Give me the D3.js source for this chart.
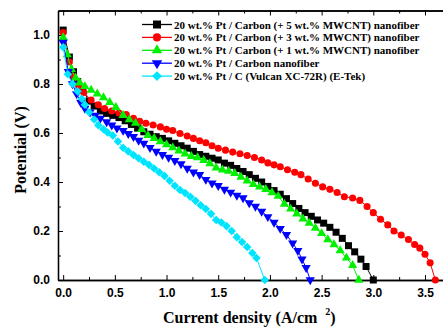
<!DOCTYPE html>
<html>
<head>
<meta charset="utf-8">
<script src="https://cdn.jsdelivr.net/npm/d3@7"></script>
<style>
  body { margin: 0; background: #fff; }
  svg { display: block; }
  .tick-label { font-family: "Liberation Sans", Arial, sans-serif; font-weight: bold; font-size: 12px; }
  .axis-title { font-family: "Liberation Serif", "Times New Roman", serif; font-weight: bold; font-size: 16px; }
  .legend-text { font-family: "Liberation Serif", "Times New Roman", serif; font-weight: bold; font-size: 11px; }
</style>
</head>
<body>
<svg width="443" height="331"></svg>
<script>
// polarization curves, [current density (A/cm2), potential (V)]
var mwcnt5 = [[0,1.02],[0.06,0.91],[0.1,0.85],[0.14,0.81],[0.19,0.775],[0.25,0.73],[0.3,0.71],[0.36,0.69],[0.42,0.68],[0.48,0.672],[0.54,0.663],[0.6,0.65],[0.66,0.635],[0.72,0.62],[0.78,0.605],[0.84,0.595],[0.9,0.585],[0.96,0.578],[1.02,0.568],[1.08,0.558],[1.14,0.548],[1.2,0.538],[1.26,0.525],[1.32,0.512],[1.38,0.505],[1.44,0.497],[1.5,0.49],[1.56,0.477],[1.62,0.468],[1.68,0.455],[1.74,0.443],[1.8,0.43],[1.86,0.415],[1.92,0.4],[1.98,0.382],[2.04,0.365],[2.1,0.35],[2.16,0.332],[2.22,0.312],[2.28,0.292],[2.34,0.275],[2.4,0.26],[2.46,0.245],[2.52,0.232],[2.58,0.215],[2.64,0.195],[2.7,0.17],[2.76,0.14],[2.82,0.115],[2.88,0.085],[2.93,0.055],[3.0,0.0]];
var mwcnt3 = [[0,1.01],[0.06,0.89],[0.1,0.83],[0.15,0.79],[0.2,0.765],[0.27,0.735],[0.34,0.715],[0.4,0.7],[0.47,0.69],[0.54,0.682],[0.61,0.675],[0.68,0.66],[0.74,0.648],[0.8,0.64],[0.87,0.633],[0.94,0.625],[1.0,0.615],[1.06,0.61],[1.13,0.598],[1.2,0.588],[1.26,0.578],[1.32,0.568],[1.38,0.56],[1.44,0.548],[1.5,0.538],[1.57,0.53],[1.64,0.522],[1.71,0.515],[1.78,0.508],[1.85,0.5],[1.92,0.49],[1.98,0.478],[2.04,0.47],[2.1,0.462],[2.17,0.45],[2.24,0.44],[2.3,0.43],[2.37,0.412],[2.44,0.395],[2.51,0.38],[2.58,0.37],[2.65,0.357],[2.72,0.34],[2.8,0.335],[2.87,0.325],[2.94,0.3],[3.0,0.275],[3.07,0.248],[3.14,0.225],[3.2,0.2],[3.27,0.184],[3.34,0.165],[3.4,0.145],[3.45,0.13],[3.5,0.105],[3.55,0.07],[3.6,0.0]];
var mwcnt1 = [[0,0.99],[0.04,0.92],[0.08,0.86],[0.12,0.825],[0.16,0.805],[0.21,0.79],[0.27,0.775],[0.33,0.76],[0.39,0.745],[0.45,0.725],[0.51,0.705],[0.58,0.672],[0.64,0.655],[0.7,0.64],[0.76,0.615],[0.82,0.59],[0.88,0.578],[0.94,0.565],[1.0,0.553],[1.06,0.54],[1.12,0.527],[1.18,0.515],[1.24,0.505],[1.3,0.5],[1.36,0.488],[1.42,0.475],[1.48,0.458],[1.54,0.45],[1.6,0.445],[1.66,0.435],[1.72,0.42],[1.78,0.405],[1.84,0.39],[1.9,0.38],[1.96,0.37],[2.02,0.357],[2.08,0.342],[2.14,0.31],[2.2,0.29],[2.26,0.27],[2.32,0.25],[2.38,0.232],[2.44,0.212],[2.5,0.19],[2.56,0.165],[2.62,0.145],[2.68,0.12],[2.74,0.09],[2.8,0.06],[2.86,0.0]];
var cnf = [[0,0.97],[0.05,0.85],[0.09,0.8],[0.13,0.76],[0.17,0.725],[0.21,0.7],[0.26,0.685],[0.31,0.672],[0.36,0.66],[0.42,0.645],[0.47,0.632],[0.52,0.62],[0.58,0.61],[0.63,0.597],[0.68,0.585],[0.73,0.57],[0.78,0.558],[0.84,0.54],[0.9,0.525],[0.96,0.512],[1.02,0.5],[1.08,0.487],[1.14,0.474],[1.2,0.455],[1.26,0.44],[1.32,0.43],[1.38,0.41],[1.44,0.395],[1.5,0.385],[1.56,0.37],[1.62,0.358],[1.68,0.345],[1.74,0.335],[1.8,0.315],[1.86,0.3],[1.92,0.28],[1.98,0.258],[2.04,0.235],[2.1,0.21],[2.16,0.185],[2.22,0.15],[2.27,0.12],[2.31,0.085],[2.35,0.05],[2.39,0.0]];
var vulcan = [[0,0.95],[0.045,0.84],[0.09,0.8],[0.14,0.77],[0.18,0.74],[0.21,0.715],[0.25,0.685],[0.3,0.655],[0.34,0.632],[0.39,0.615],[0.43,0.602],[0.48,0.59],[0.53,0.565],[0.58,0.54],[0.63,0.525],[0.68,0.51],[0.73,0.497],[0.78,0.483],[0.83,0.47],[0.88,0.455],[0.93,0.44],[0.98,0.425],[1.03,0.405],[1.08,0.385],[1.13,0.367],[1.18,0.355],[1.23,0.34],[1.28,0.323],[1.33,0.305],[1.38,0.29],[1.43,0.27],[1.48,0.245],[1.53,0.235],[1.58,0.22],[1.63,0.2],[1.68,0.175],[1.73,0.155],[1.78,0.135],[1.83,0.11],[1.87,0.09],[1.95,0.0]];

var seriesNames = [
  "20 wt.% Pt / Carbon (+ 5 wt.% MWCNT) nanofiber",
  "20 wt.% Pt / Carbon (+ 3 wt.% MWCNT) nanofiber",
  "20 wt.% Pt / Carbon (+ 1 wt.% MWCNT) nanofiber",
  "20 wt.% Pt / Carbon nanofiber",
  "20 wt.% Pt / C (Vulcan XC-72R) (E-Tek)"
];
var seriesColors = ["#000000", "#ff0000", "#00f000", "#0000ff", "#00e5ff"];
var xTicks = [0, 0.5, 1.0, 1.5, 2.0, 2.5, 3.0, 3.5];
var xMinor = [0.25, 0.75, 1.25, 1.75, 2.25, 2.75, 3.25, 3.75];
var yTicks = [0, 0.2, 0.4, 0.6, 0.8, 1.0];
var yMinor = [0.1, 0.3, 0.5, 0.7, 0.9];

var allSeries = [mwcnt5, mwcnt3, mwcnt1, cnf, vulcan];
var shapes = ["square", "circle", "up", "down", "diamond"];

var svg = d3.select("svg");

var x = d3.scaleLinear().domain([-0.05, 3.8]).range([58, 456]);
var y = d3.scaleLinear().domain([0, 1.1]).range([280, 10.5]);

function symbolPath(shape, s) {
  if (shape == "square") return d3.symbol().type(d3.symbolSquare).size(s * s)();
  if (shape == "circle") return d3.symbol().type(d3.symbolCircle).size(s * s * 0.8)();
  if (shape == "diamond") return d3.symbol().type(d3.symbolSquare).size(s * s * 0.75)();
  return d3.symbol().type(d3.symbolTriangle).size(s * s * 0.75)();
}
function symbolRotate(shape) {
  if (shape == "down") return 180;
  if (shape == "diamond") return 45;
  return 0;
}

// axes frame, ticks point inward
var axisG = svg.append("g");

axisG.append("g")
    .attr("transform", "translate(0,280)")
    .call(d3.axisBottom(x).tickValues(xTicks).tickSizeInner(-5).tickSizeOuter(0).tickPadding(8).tickFormat(d3.format(".1f")));
axisG.append("g")
    .attr("transform", "translate(0,280)")
    .call(d3.axisBottom(x).tickValues(xMinor).tickSizeInner(-3).tickSizeOuter(0).tickFormat(""));
axisG.append("g")
    .attr("transform", "translate(58,0)")
    .call(d3.axisLeft(y).tickValues(yTicks).tickSizeInner(-5).tickSizeOuter(0).tickPadding(8).tickFormat(d3.format(".1f")));
axisG.append("g")
    .attr("transform", "translate(58,0)")
    .call(d3.axisLeft(y).tickValues(yMinor).tickSizeInner(-3).tickSizeOuter(0).tickFormat(""));
axisG.append("g")
    .attr("transform", "translate(0,10.5)")
    .call(d3.axisTop(x).tickValues(xTicks).tickSizeInner(-5).tickSizeOuter(0).tickFormat(""));
axisG.append("g")
    .attr("transform", "translate(0,10.5)")
    .call(d3.axisTop(x).tickValues(xMinor).tickSizeInner(-3).tickSizeOuter(0).tickFormat(""));

axisG.selectAll(".domain").attr("stroke", "#000").attr("stroke-width", 1.3);
axisG.selectAll(".tick line").attr("stroke", "#000").attr("stroke-width", 1);
axisG.selectAll(".tick text")
    .attr("class", "tick-label")
    .attr("fill", "#000");

// curves
var line = d3.line()
    .x(function(d) { return x(d[0]); })
    .y(function(d) { return y(d[1]); });

allSeries.forEach(function(data, i) {
  var g = svg.append("g");
  g.append("path")
      .datum(data)
      .attr("d", line)
      .attr("fill", "none")
      .attr("stroke", seriesColors[i])
      .attr("stroke-width", 1);
  g.selectAll("path.mark")
      .data(data)
      .enter().append("path")
      .attr("class", "mark")
      .attr("d", symbolPath(shapes[i], 7))
      .attr("transform", function(d) {
        return "translate(" + x(d[0]) + "," + y(d[1]) + ") rotate(" + symbolRotate(shapes[i]) + ")";
      })
      .attr("fill", seriesColors[i]);
});

// legend
var legend = svg.append("g");
seriesNames.forEach(function(name, i) {
  var ly = 24.5 + i * 12.9;
  legend.append("line")
      .attr("x1", 142).attr("x2", 172)
      .attr("y1", ly).attr("y2", ly)
      .attr("stroke", seriesColors[i])
      .attr("stroke-width", 1.3);
  legend.append("path")
      .attr("d", symbolPath(shapes[i], 8))
      .attr("transform", "translate(157," + ly + ") rotate(" + symbolRotate(shapes[i]) + ")")
      .attr("fill", seriesColors[i]);
  legend.append("text")
      .attr("class", "legend-text")
      .attr("x", 174)
      .attr("y", ly + 4)
      .text(name);
});

// axis titles
svg.append("text")
    .attr("class", "axis-title")
    .attr("transform", "translate(26,150) rotate(-90)")
    .attr("text-anchor", "middle")
    .text("Potential (V)");

var xt = svg.append("text")
    .attr("class", "axis-title")
    .attr("x", 163)
    .attr("y", 323);
xt.append("tspan").text("Current density (A/cm");
xt.append("tspan").attr("dx", 8).attr("dy", -8).attr("font-size", "10px").text("2");
xt.append("tspan").attr("dy", 8).text(")");
</script>
</body>
</html>
